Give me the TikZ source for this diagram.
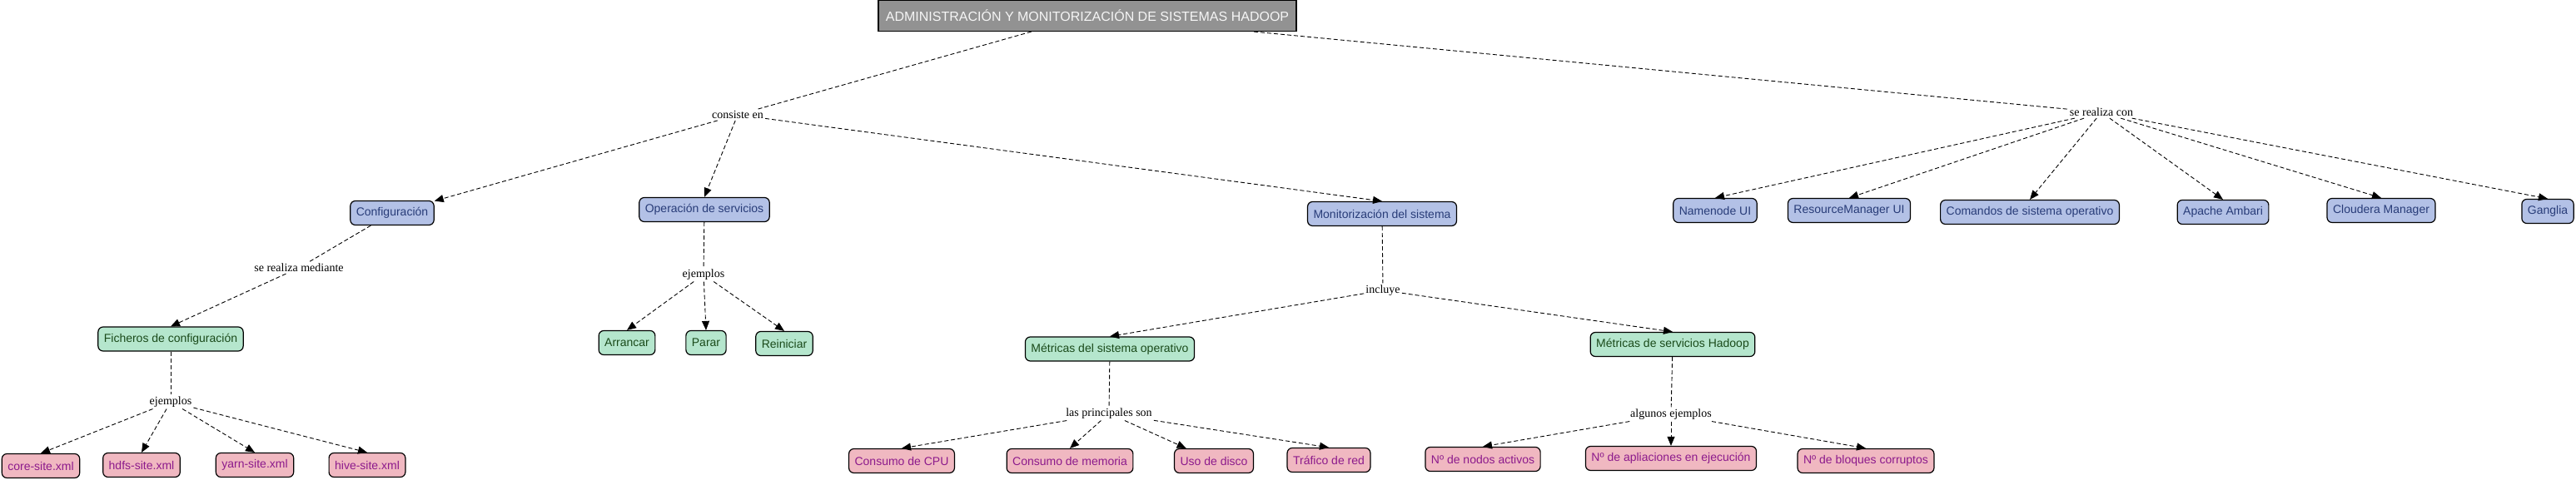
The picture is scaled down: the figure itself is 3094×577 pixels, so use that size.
\documentclass[tikz,border=0pt]{standalone}
\usepackage{fontspec}
\setmainfont{Liberation Serif}
\setsansfont{Liberation Sans}
\usetikzlibrary{arrows.meta}
\definecolor{cblue}{HTML}{B3C1E6}
\definecolor{tblue}{HTML}{283C78}
\definecolor{cgreen}{HTML}{B5E6CD}
\definecolor{tgreen}{HTML}{1A4A1A}
\definecolor{cpink}{HTML}{F0B8C1}
\definecolor{tpink}{HTML}{8C1A8C}
\definecolor{cgray}{HTML}{929292}
\definecolor{tgray}{HTML}{F5F5F5}
\begin{document}
\begin{tikzpicture}[x=1pt,y=-1pt,
  box/.style={draw=black, line width=1.2pt, rounded corners=6pt, inner xsep=7pt, inner ysep=0pt,
    minimum height=29pt, font=\sffamily\fontsize{14}{16}\selectfont},
  bluebox/.style={box, fill=cblue, text=tblue},
  greenbox/.style={box, fill=cgreen, text=tgreen},
  pinkbox/.style={box, fill=cpink, text=tpink},
  titlebox/.style={draw=black, line width=1.2pt, fill=cgray, text=tgray, minimum width=502pt,
    minimum height=37pt, inner sep=0pt, font=\sffamily\fontsize{16}{18}\selectfont},
  lbl/.style={inner sep=2pt, font=\rmfamily\fontsize{14}{16}\selectfont},
  link/.style={dash pattern=on 5pt off 3pt, line width=0.9pt},
  arr/.style={link, -{Triangle[length=11pt,width=9pt]}}
]
\useasboundingbox (0,0) rectangle (3094,577);

% nodes
\node[titlebox] (title) at (1306,19) {ADMINISTRACIÓN Y MONITORIZACIÓN DE SISTEMAS HADOOP};

\node[lbl] (consiste) at (886,138) {consiste en};
\node[lbl] (realizacon) at (2524,135) {se realiza con};

\node[bluebox] (conf) at (471,256) {Configuración};
\node[bluebox] (oper) at (846,252) {Operación de servicios};
\node[bluebox] (monit) at (1660,257) {Monitorización del sistema};
\node[bluebox] (namenode) at (2060,253) {Namenode UI};
\node[bluebox] (rm) at (2221,253) {ResourceManager UI};
\node[bluebox] (comandos) at (2438,255) {Comandos de sistema operativo};
\node[bluebox] (ambari) at (2670,255) {Apache Ambari};
\node[bluebox] (cloudera) at (2860,253) {Cloudera Manager};
\node[bluebox] (ganglia) at (3060,254) {Ganglia};

\node[lbl] (mediante) at (359,322) {se realiza mediante};
\node[lbl] (ejemplosb) at (845,330) {ejemplos};
\node[lbl] (incluye) at (1661,349) {incluye};

\node[greenbox] (ficheros) at (205,407.5) {Ficheros de configuración};
\node[greenbox] (arrancar) at (753,412) {Arrancar};
\node[greenbox] (parar) at (848,412) {Parar};
\node[greenbox] (reiniciar) at (942,413) {Reiniciar};
\node[greenbox] (metso) at (1333,419.5) {Métricas del sistema operativo};
\node[greenbox] (methadoop) at (2009,414) {Métricas de servicios Hadoop};

\node[lbl] (ejemplosa) at (205,483) {ejemplos};
\node[lbl] (principales) at (1332,497) {las principales son};
\node[lbl] (algunos) at (2007,498) {algunos ejemplos};

\node[pinkbox] (core) at (49,560) {core-site.xml};
\node[pinkbox] (hdfs) at (170,559) {hdfs-site.xml};
\node[pinkbox] (yarn) at (306,559) {yarn-site.xml};
\node[pinkbox] (hive) at (441,559) {hive-site.xml};
\node[pinkbox] (cpu) at (1083,554) {Consumo de CPU};
\node[pinkbox] (mem) at (1285,554) {Consumo de memoria};
\node[pinkbox] (disco) at (1458,554) {Uso de disco};
\node[pinkbox] (trafico) at (1596,553) {Tráfico de red};
\node[pinkbox] (nodos) at (1781,552) {Nº de nodos activos};
\node[pinkbox] (aplic) at (2007,551) {Nº de apliaciones en ejecución};
\node[pinkbox] (bloques) at (2241,554) {Nº de bloques corruptos};

% connectors
\draw[link] (title) -- (consiste);
\draw[link] (title) -- (realizacon);

\draw[arr] (consiste) -- (conf);
\draw[arr] (consiste) -- (oper.north);
\draw[arr] (consiste) -- (monit.north);

\foreach \t in {namenode,rm,comandos,ambari,cloudera,ganglia}
  \draw[arr] (realizacon) -- (\t.north);

\draw[link] (conf) -- (mediante);
\draw[arr] (mediante) -- (ficheros.north);
\draw[link] (ficheros) -- (ejemplosa);
\foreach \t in {core,hdfs,yarn,hive}
  \draw[arr] (ejemplosa) -- (\t.north);

\draw[link] (oper) -- (ejemplosb);
\foreach \t in {arrancar,parar,reiniciar}
  \draw[arr] (ejemplosb) -- (\t.north);

\draw[link] (monit) -- (incluye);
\draw[arr] (incluye) -- (metso.north);
\draw[arr] (incluye) -- (methadoop.north);

\draw[link] (metso) -- (principales);
\draw[arr] (principales) -- (cpu.north);
\draw[arr] (principales) -- (mem.north);
\draw[arr] (principales) -- (disco);
\draw[arr] (principales) -- (trafico.north);

\draw[link] (methadoop) -- (algunos);
\foreach \t in {nodos,aplic,bloques}
  \draw[arr] (algunos) -- (\t.north);
\end{tikzpicture}
\end{document}
